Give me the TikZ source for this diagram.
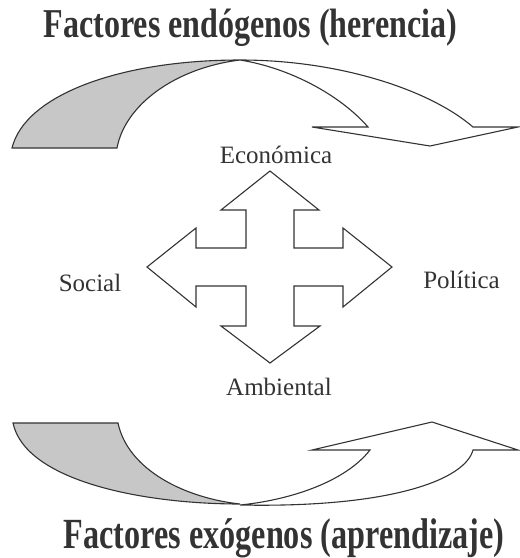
\documentclass[tikz,border=0pt]{standalone}
\usepackage{fontspec}
\setmainfont{Liberation Serif}
\begin{document}
\begin{tikzpicture}[x=1pt,y=-1pt,
  ink/.style={draw=black!80, line width=1.1pt, line join=miter},
  shade/.style={ink, fill=black!22},
  blank/.style={ink, fill=white},
  label/.style={text=black!80, inner sep=0pt, anchor=base, font=\fontsize{25}{30}\selectfont},
  heading/.style={text=black!80, inner sep=0pt, anchor=base}]
\useasboundingbox (0,0) rectangle (520,558);

% titles
\node[heading, font=\fontsize{41}{48}\selectfont\bfseries] (top) at (250.5,37)
  {\scalebox{0.782}[1]{Factores endógenos (herencia)}};
\node[heading, font=\fontsize{43}{50}\selectfont\bfseries] (bottom) at (284,548)
  {\scalebox{0.749}[1]{Factores exógenos (aprendizaje)}};

% upper curved arrow: shaded underside and white band with head
\filldraw[shade] (12,148) .. controls (25,95) and (120,60) .. (240,60)
  .. controls (175,68) and (125,105) .. (117,148) -- cycle;
\filldraw[blank] (240,60) .. controls (340,60) and (430,90) .. (473,127)
  -- (518,127) -- (430,146) -- (312,127) -- (368,127)
  .. controls (340,95) and (290,68) .. (240,60) -- cycle;

% lower curved arrow
\filldraw[shade] (13,423) -- (118,423) .. controls (128,470) and (185,498) .. (240,504)
  .. controls (140,504) and (25,480) .. (13,423) -- cycle;
\filldraw[blank] (240,505) .. controls (390,508) and (465,480) .. (473,450)
  -- (518,450) -- (432,422) -- (312,450) -- (370,450)
  .. controls (345,482) and (290,500) .. (240,505) -- cycle;

% four-way arrow
\filldraw[blank] (270,171) -- (319,210) -- (294,210) -- (294,248) -- (343,248)
  -- (343,228) -- (392,267) -- (343,307) -- (343,286) -- (294,286)
  -- (294,326) -- (320,326) -- (270,363) -- (221,326) -- (246,326)
  -- (246,286) -- (196,286) -- (196,307) -- (147,267) -- (196,228)
  -- (196,248) -- (246,248) -- (246,210) -- (221,210) -- cycle;

% labels
\node[label] (eco) at (276,163) {Económica};
\node[label] (soc) at (90,291) {Social};
\node[label] (pol) at (461.5,288) {Política};
\node[label] (amb) at (279,395) {Ambiental};
\end{tikzpicture}
\end{document}
